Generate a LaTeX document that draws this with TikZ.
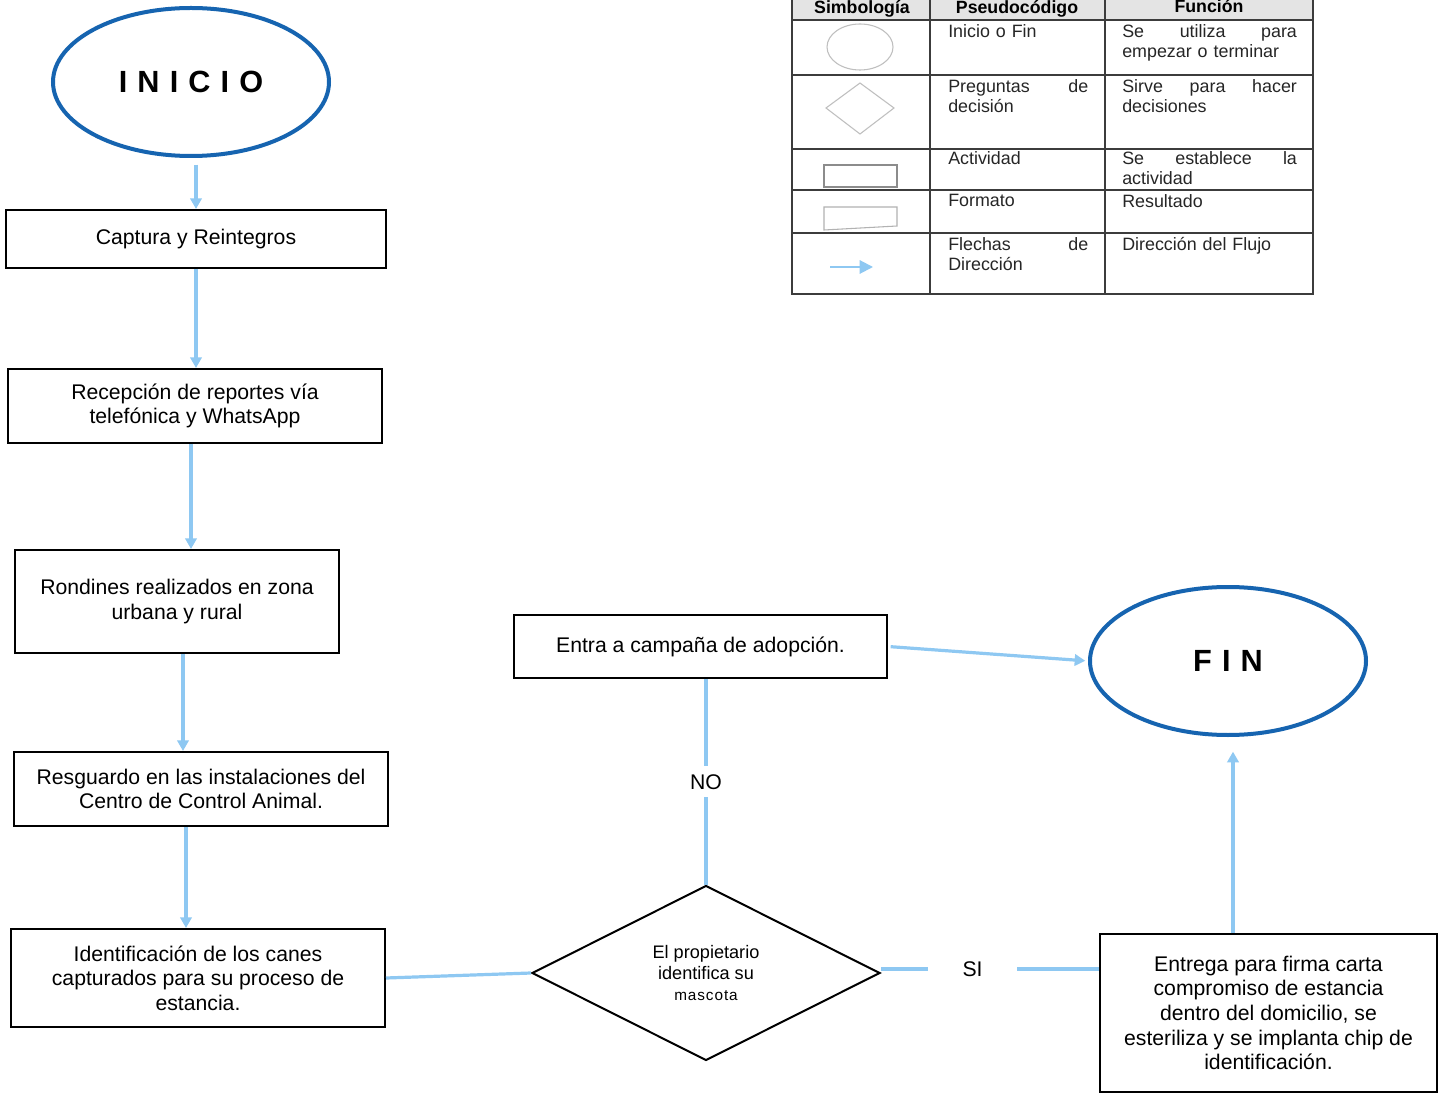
\documentclass[tikz,border=0pt]{standalone}
\usepackage{fontspec}
\setmainfont{Liberation Sans}
\newfontfamily\spacedfont[LetterSpace=33]{Liberation Sans}
\usetikzlibrary{shapes.geometric,arrows.meta,calc}
\definecolor{ovalblue}{RGB}{22,100,176}
\definecolor{arrblue}{RGB}{142,200,242}
\definecolor{legline}{RGB}{60,60,60}
\definecolor{headgray}{RGB}{228,228,228}
\tikzset{
  procbox/.style={draw=black, line width=1.5pt, align=center, inner sep=0pt,
    font=\fontsize{15.9}{18.5}\selectfont},
  oval/.style={draw=ovalblue, line width=3pt, ellipse, minimum width=207pt, minimum height=111pt,
    font=\spacedfont\bfseries\fontsize{23}{26}\selectfont},
  decision/.style={draw=black, line width=1.5pt, diamond, inner sep=0pt,
    minimum width=261pt, minimum height=131.25pt, align=center,
    font=\fontsize{13.6}{15.6}\selectfont},
  arr/.style={draw=arrblue, line width=2.4pt, -{Triangle[width=8.5pt,length=8pt]}},
  conn/.style={draw=arrblue, line width=2.4pt},
  flowlbl/.style={fill=white, font=\fontsize{15.9}{18}\selectfont},
  tabtxt/.style={anchor=north west, inner sep=0pt, align=left,
    font=\fontsize{13.4}{15.4}\selectfont, text=black!85},
  tabhead/.style={inner sep=0pt, font=\bfseries\fontsize{13.3}{14}\selectfont},
  tabline/.style={draw=legline, line width=0.8pt}
}
\begin{document}
\begin{tikzpicture}[x=0.75pt,y=-0.75pt]
\useasboundingbox[fill=white] (0,0) rectangle (1442,1094);

% ---------- flow nodes ----------
\node[oval] (ini) at (191,82) {INICIO};
\node[procbox, minimum width=285pt, minimum height=43.5pt] (cap) at (196,239) {Captura y Reintegros};
\node[procbox, minimum width=280.5pt, minimum height=55.5pt] (rec) at (195,406) {Recepción de reportes vía\\ telefónica y WhatsApp};
\node[procbox, minimum width=243pt, minimum height=77.25pt] (ron) at (177,601.5) {Rondines realizados en zona\\ urbana y rural};
\node[procbox, minimum width=280.5pt, minimum height=55.5pt] (res) at (201,789) {Resguardo en las instalaciones del\\ Centro de Control Animal.};
\node[procbox, minimum width=280.5pt, minimum height=73.5pt] (ide) at (198,978) {Identificación de los canes\\ capturados para su proceso de\\ estancia.};
\node[decision] (dia) at (706,973) {El propietario\\ identifica su\\ {\addfontfeature{LetterSpace=6}\fontsize{11.5}{15.6}\selectfont mascota}};
\node[procbox, minimum width=279.75pt, minimum height=47.25pt] (ent) at (700.5,646.5) {Entra a campaña de adopción.};
\node[oval] (fin) at (1228,661) {FIN};
\node[procbox, minimum width=252.75pt, minimum height=118.5pt] (entr) at (1268.5,1013) {Entrega para firma carta\\ compromiso de estancia\\ dentro del domicilio, se\\ esteriliza y se implanta chip de\\ identificación.};

% ---------- connectors ----------
\draw[arr, shorten <=5pt] (ini.south -| cap.north) -- (cap.north);
\draw[arr] (cap.south) -- (cap.south |- rec.north);
\coordinate (c3) at ($(rec.south)+(-4,0)$);
\draw[arr] (c3) -- (c3 |- ron.north);
\coordinate (c4) at ($(ron.south)+(6,0)$);
\draw[arr] (c4) -- (c4 |- res.north);
\coordinate (c5) at ($(res.south)+(-15,0)$);
\draw[arr] (c5) -- (c5 |- ide.north);
\draw[conn] (ide.east) -- (dia.west);
\draw[conn] (dia.north) -- node[flowlbl, inner xsep=2pt, inner ysep=6pt] (nolbl) {NO} (dia.north |- ent.south);
\draw[arr, shorten <=2pt, shorten >=2pt] (ent.east) -- (fin.west);
\coordinate (siend) at (dia.east -| entr.west);
\draw[conn] ($(dia.east)+(0,-4)$) -- node[flowlbl, pos=0.42, inner xsep=26pt, inner ysep=2pt] (silbl) {SI} ($(siend)+(0,-4)$);
\coordinate (c9) at ($(fin.south)+(5,0)$);
\draw[arr, shorten >=11pt] (c9 |- entr.north) -- (c9);

% ---------- legend table ----------
\fill[headgray] (792,-2) rectangle (1313,20);
\draw[tabline] (792,-2) -- (792,294) -- (1313,294) -- (1313,-2);
\draw[tabline] (930,-2) -- (930,294);
\draw[tabline] (1105,-2) -- (1105,294);
\foreach \yy in {20,75,149,190,233} \draw[tabline] (792,\yy) -- (1313,\yy);

\node[tabhead] (h1) at (862,9) {Simbología};
\node[tabhead] (h2) at (1017,9) {Pseudocódigo};
\node[tabhead] (h3) at (1209,6) {Función};

\node[tabtxt, text width=106.5pt] (p1) at (948,24) {Inicio o Fin};
\node[tabtxt, text width=131pt] (f1) at (1122,24) {Se \hfill utiliza \hfill para\\ empezar o terminar};
\node[tabtxt, text width=105pt] (p2) at (948,79) {Preguntas \hfill de\\ decisión};
\node[tabtxt, text width=131pt] (f2) at (1122,79) {Sirve \hfill para \hfill hacer\\ decisiones};
\node[tabtxt, text width=106.5pt] (p3) at (948,151) {Actividad};
\node[tabtxt, text width=131pt] (f3) at (1122,151) {Se \hfill establece \hfill la\\ actividad};
\node[tabtxt, text width=106.5pt] (p4) at (948,194) {Formato};
\node[tabtxt, text width=131pt] (f4) at (1122,194) {Resultado};
\node[tabtxt, text width=105pt] (p5) at (948,237) {Flechas \hfill de\\ Dirección};
\node[tabtxt, text width=131pt] (f5) at (1122,237) {Dirección del Flujo};

% legend symbols
\draw[black!25, line width=0.8pt] (860,47) ellipse [x radius=33, y radius=23];
\draw[black!25, line width=0.8pt] (826,108) -- (860,83) -- (894,108) -- (860,134) -- cycle;
\draw[black!45, line width=0.8pt] (824,165) rectangle (897,187);
\draw[black!30, line width=0.8pt] (824,207) -- (897,207) -- (897,226) -- (824,230) -- cycle;
\draw[arrblue, line width=1.5pt, -{Triangle[width=10pt,length=10pt]}] (830,267) -- (873,267);
\end{tikzpicture}
\end{document}
